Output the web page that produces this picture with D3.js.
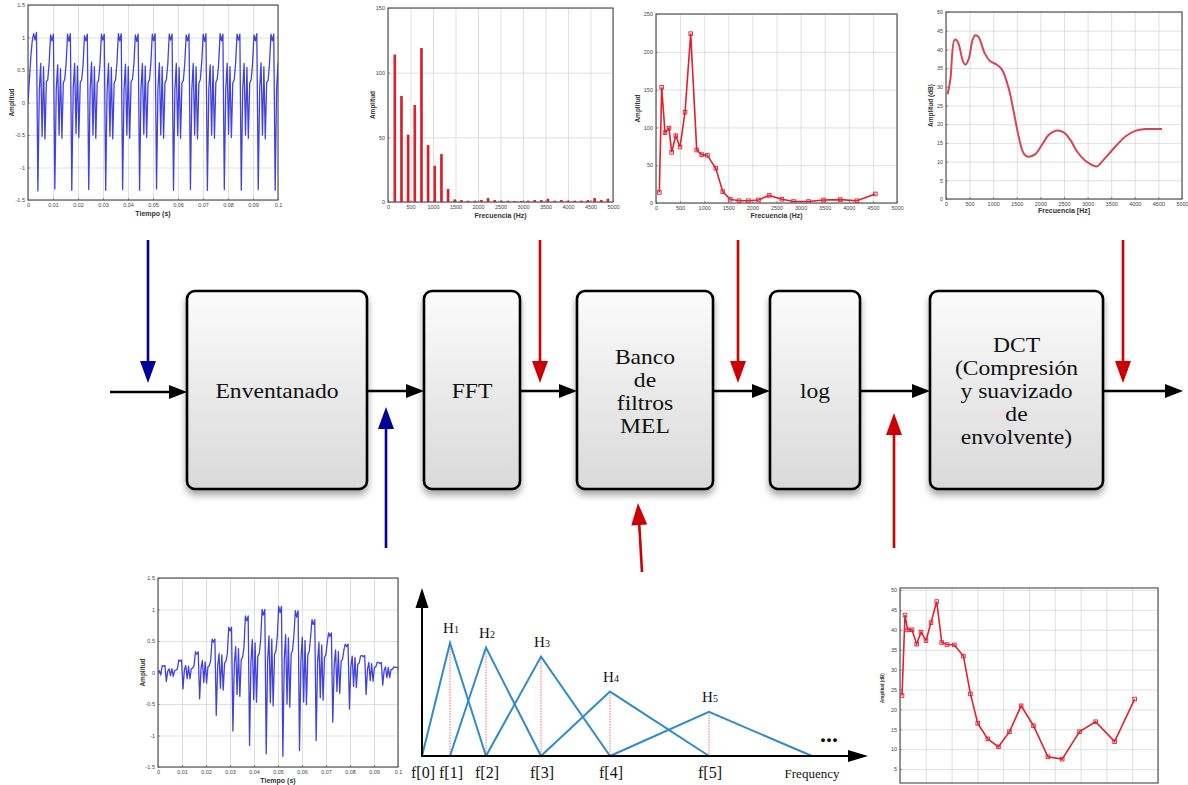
<!DOCTYPE html>
<html><head><meta charset="utf-8">
<script src="https://cdn.jsdelivr.net/npm/d3@7/dist/d3.min.js"></script>
<style>html,body{margin:0;padding:0;background:#fff}svg{display:block}</style>
</head><body>
<svg id="chart" width="1188" height="785"></svg>
<script>
// ================= DATA =================
// Voice signal (amplitude per sample, one row per pitch period)
const signalLead = [0.0, 0.35, 0.7, 0.95];
const signalPeriods = [
  [1.06, 0.96, 1.08, -1.36, 0.18, 0.60, -0.52, 0.55, -0.56, 0.32, 0.35, 0.62],
  [1.04, 0.95, 1.05, -1.33, 0.20, 0.58, -0.50, 0.52, -0.55, 0.30, 0.36, 0.60],
  [1.05, 0.94, 1.06, -1.35, 0.22, 0.60, -0.48, 0.56, -0.54, 0.31, 0.35, 0.58],
  [1.03, 0.95, 1.05, -1.34, 0.20, 0.62, -0.50, 0.55, -0.55, 0.30, 0.34, 0.60],
  [1.05, 0.96, 1.05, -1.35, 0.18, 0.60, -0.52, 0.54, -0.56, 0.30, 0.35, 0.62],
  [1.06, 0.95, 1.06, -1.34, 0.20, 0.59, -0.50, 0.55, -0.55, 0.32, 0.36, 0.60],
  [1.04, 0.94, 1.05, -1.35, 0.21, 0.60, -0.49, 0.56, -0.54, 0.30, 0.35, 0.61],
  [1.05, 0.95, 1.06, -1.33, 0.20, 0.61, -0.50, 0.55, -0.55, 0.31, 0.35, 0.60],
  [1.05, 0.96, 1.05, -1.35, 0.19, 0.60, -0.51, 0.54, -0.55, 0.30, 0.34, 0.60],
  [1.04, 0.95, 1.05, -1.34, 0.20, 0.60, -0.50, 0.55, -0.56, 0.30, 0.35, 0.62],
  [1.05, 0.94, 1.06, -1.35, 0.20, 0.58, -0.50, 0.56, -0.55, 0.31, 0.36, 0.60],
  [1.06, 0.95, 1.05, -1.34, 0.21, 0.60, -0.49, 0.55, -0.54, 0.30, 0.35, 0.61],
  [1.05, 0.96, 1.05, -1.35, 0.20, 0.60, -0.50, 0.54, -0.55, 0.30, 0.35, 0.60],
  [1.04, 0.95, 1.06, -1.34, 0.19, 0.61, -0.50, 0.55, -0.56, 0.31, 0.34, 0.60],
  [1.05, 0.95, 1.05, -1.35, 0.20, 0.60, -0.50, 0.55, -0.55, 0.30, 0.35, 0.60]
];
const signalDuration = 0.1;
const signalSamplesPerSpan = 177;

// Windowed frame (Hamming windowed signal)
const windowedLead = [0.0, 0.03, -0.04];
const windowedPeriods = [
  [0.11, 0.10, 0.11, -0.14, 0.02, 0.06, -0.05, 0.06, -0.06, 0.03, 0.04, 0.06],
  [0.20, 0.18, 0.20, -0.26, 0.04, 0.11, -0.10, 0.10, -0.10, 0.06, 0.07, 0.11],
  [0.33, 0.29, 0.33, -0.42, 0.06, 0.19, -0.16, 0.17, -0.17, 0.09, 0.11, 0.19],
  [0.53, 0.48, 0.53, -0.68, 0.10, 0.30, -0.25, 0.28, -0.28, 0.15, 0.18, 0.30],
  [0.72, 0.66, 0.72, -0.93, 0.14, 0.41, -0.35, 0.38, -0.38, 0.21, 0.24, 0.41],
  [0.90, 0.82, 0.90, -1.16, 0.17, 0.52, -0.43, 0.47, -0.47, 0.26, 0.30, 0.52],
  [1.00, 0.91, 1.00, -1.29, 0.19, 0.58, -0.48, 0.53, -0.53, 0.29, 0.34, 0.58],
  [1.05, 0.95, 1.05, -1.33, 0.20, 0.60, -0.50, 0.55, -0.55, 0.30, 0.35, 0.60],
  [0.98, 0.88, 0.98, -1.24, 0.19, 0.56, -0.47, 0.51, -0.51, 0.28, 0.33, 0.56],
  [0.84, 0.76, 0.84, -1.08, 0.16, 0.48, -0.40, 0.44, -0.44, 0.24, 0.28, 0.48],
  [0.63, 0.57, 0.63, -0.79, 0.12, 0.36, -0.30, 0.33, -0.33, 0.18, 0.21, 0.36],
  [0.45, 0.41, 0.45, -0.58, 0.09, 0.26, -0.22, 0.24, -0.24, 0.13, 0.15, 0.26],
  [0.27, 0.25, 0.27, -0.35, 0.05, 0.16, -0.13, 0.14, -0.14, 0.08, 0.09, 0.16],
  [0.16, 0.14, 0.16, -0.20, 0.03, 0.09, -0.08, 0.08, -0.08, 0.05, 0.05, 0.09],
  [0.08, 0.08, 0.08, -0.11, 0.02, 0.05, -0.04, 0.04, -0.04, 0.02, 0.03, 0.05]
];
const windowedSamplesPerSpan = 173;

// FFT magnitude (harmonics)
const fftFreqs = [148, 296, 444, 592, 740, 888, 1036, 1184, 1332, 1480, 1628, 1776, 1924, 2072, 2220, 2368, 2516, 2664, 2812, 2960, 3108, 3256, 3404, 3552, 3700, 3848, 3996, 4144, 4292, 4440, 4588, 4736, 4884];
const fftAmps  = [114, 82, 52, 75, 119, 44, 28, 37, 10, 2, 1.5, 1, 1, 1.5, 3, 1.5, 1, 1, 0.8, 0.8, 1, 1.5, 1.5, 2.5, 1, 1.5, 1, 1, 1, 1.5, 3, 1.5, 2.5];

// Mel filter bank output
const melFreqs = [69, 118, 187, 270, 325, 409, 498, 602, 720, 845, 949, 1066, 1240, 1385, 1537, 1724, 1918, 2126, 2348, 2611, 2853, 3165, 3476, 3823, 4169, 4550];
const melAmps  = [14, 153, 93, 99, 67, 89, 74, 120, 224, 70, 64, 63, 46, 15, 5, 3, 3, 4, 10, 5, 2, 2, 4, 4.5, 3, 12];

// Smoothed envelope after DCT (dB)
const envFreqs = [35, 92, 184, 247, 360, 410, 480, 565, 621, 692, 819, 939, 1080, 1186, 1328, 1434, 1540, 1645, 1737, 1893, 2034, 2175, 2352, 2493, 2634, 2776, 2952, 3093, 3199, 3305, 3446, 3623, 3800, 4011, 4223, 4435, 4576];
const envDb    = [28, 31.9, 42.6, 42.1, 36.8, 35.9, 37.4, 42.6, 43.8, 43.3, 39, 36.8, 35.9, 34.6, 29.6, 23.4, 16.7, 12.2, 11.3, 12, 14.5, 17.1, 18.3, 17.8, 15.8, 12.7, 10.2, 9.1, 8.7, 10, 12, 14.5, 16.7, 18.2, 18.7, 18.7, 18.7];

// Log of mel energies (dB)
const logMelFreqs = [39, 97, 149, 233, 323, 407, 504, 601, 712, 809, 912, 1054, 1229, 1365, 1507, 1701, 1908, 2122, 2348, 2587, 2866, 3144, 3480, 3791, 4159, 4547];
const logMelDb    = [23.5, 43.7, 40, 40, 36.4, 39.4, 37.3, 41.8, 47.1, 36.8, 36.3, 36.2, 33.4, 23.9, 16.5, 12.6, 10.6, 14.4, 20.9, 15.9, 8.1, 7.5, 14.4, 16.9, 11.9, 22.6];

// Triangular mel filters diagram
const filterEdges = [0, 28, 64, 119, 188, 287, 390];
const filterPeaks = [1.0, 0.96, 0.88, 0.57, 0.39];
const filterEdgeLabels = ["f[0]", "f[1]", "f[2]", "f[3]", "f[4]", "f[5]"];
const filterNames = ["1", "2", "3", "4", "5"];

// Tick values
const timeTicks = [0, 0.01, 0.02, 0.03, 0.04, 0.05, 0.06, 0.07, 0.08, 0.09, 0.1];
const ampTicks = [-1.5, -1, -0.5, 0, 0.5, 1, 1.5];
const freqTicks = [0, 500, 1000, 1500, 2000, 2500, 3000, 3500, 4000, 4500, 5000];
const fftTicks = [0, 50, 100, 150];
const melTicks = [0, 50, 100, 150, 200, 250];
const dbTicks = [0, 5, 10, 15, 20, 25, 30, 35, 40, 45, 50];
const dbTicksVisible = [5, 10, 15, 20, 25, 30, 35, 40, 45, 50];

// Processing blocks
const blockLabels = [
  ["Enventanado"],
  ["FFT"],
  ["Banco", "de", "filtros", "MEL"],
  ["log"],
  ["DCT", "(Compresión", "y suavizado", "de", "envolvente)"]
];

// ================= DRAWING =================
const svg = d3.select('#chart');
const defs = svg.append('defs');
const SERIF = '"Liberation Serif","DejaVu Serif",serif';
const SANS = '"Liberation Sans","DejaVu Sans",sans-serif';
const BLUE = '#000099', RED = '#cc0000';

const grad = defs.append('linearGradient').attr('id', 'boxGrad').attr('x1', 0).attr('y1', 0).attr('x2', 0).attr('y2', 1);
grad.append('stop').attr('offset', '0%').attr('stop-color', '#fbfbfb');
grad.append('stop').attr('offset', '100%').attr('stop-color', '#d9d9d9');
const flt = defs.append('filter').attr('id', 'shadow').attr('x', '-20%').attr('y', '-20%').attr('width', '140%').attr('height', '150%');
flt.append('feDropShadow').attr('dx', 0).attr('dy', 5).attr('stdDeviation', 3.5).attr('flood-color', '#000').attr('flood-opacity', 0.35);

function arrow(x1, y1, x2, y2, color, lw, hl, hw) {
  const dx = x2 - x1, dy = y2 - y1, L = Math.hypot(dx, dy), ux = dx / L, uy = dy / L;
  const bx = x2 - ux * hl, by = y2 - uy * hl;
  svg.append('line').attr('x1', x1).attr('y1', y1).attr('x2', bx + ux * 2).attr('y2', by + uy * 2)
    .attr('stroke', color).attr('stroke-width', lw);
  svg.append('path')
    .attr('d', `M${x2},${y2}L${bx - uy * hw / 2},${by + ux * hw / 2}L${bx + uy * hw / 2},${by - ux * hw / 2}Z`)
    .attr('fill', color);
}

function styleAxis(s) {
  s.select('.domain').remove();
  s.selectAll('line').attr('stroke', '#555').attr('stroke-width', 0.6);
  s.selectAll('text').attr('font-size', 5.5).attr('fill', '#444').attr('font-family', SANS);
}

let clipCount = 0;
function miniChart(o) {
  const g = svg.append('g');
  const w = o.right - o.left, h = o.bottom - o.top;
  const x = d3.scaleLinear().domain(o.xDomain).range([o.left, o.right]);
  const y = d3.scaleLinear().domain(o.yDomain).range(o.yRange || [o.bottom, o.top]);
  g.append('rect').attr('x', o.left).attr('y', o.top).attr('width', w).attr('height', h).attr('fill', '#fff');
  const gx = g.append('g').attr('transform', `translate(0,${o.bottom})`)
    .call(d3.axisBottom(x).tickValues(o.xTicks).tickSize(-h).tickFormat(''));
  const gy = g.append('g').attr('transform', `translate(${o.left},0)`)
    .call(d3.axisLeft(y).tickValues(o.yTicks).tickSize(-w).tickFormat(''));
  [gx, gy].forEach(s => { s.select('.domain').remove(); s.selectAll('line').attr('stroke', '#d2d2d2').attr('stroke-width', 0.7); });
  if (o.xFormat) {
    g.append('g').attr('transform', `translate(0,${o.bottom})`)
      .call(d3.axisBottom(x).tickValues(o.xTicks).tickSizeInner(-2).tickSizeOuter(0).tickPadding(3).tickFormat(o.xFormat))
      .call(styleAxis);
  }
  g.append('g').attr('transform', `translate(${o.left},0)`)
    .call(d3.axisLeft(y).tickValues(o.yTicks).tickSizeInner(-2).tickSizeOuter(0).tickPadding(3).tickFormat(o.yFormat))
    .call(styleAxis);
  g.append('rect').attr('x', o.left).attr('y', o.top).attr('width', w).attr('height', h)
    .attr('fill', 'none').attr('stroke', '#555').attr('stroke-width', 1.2);
  const id = 'clip' + (clipCount++);
  defs.append('clipPath').attr('id', id).append('rect').attr('x', o.left).attr('y', o.top).attr('width', w).attr('height', h);
  const plot = g.append('g').attr('clip-path', `url(#${id})`);
  if (o.xTitle) {
    g.append('text').attr('x', (o.left + o.right) / 2).attr('y', o.xTitleY).attr('text-anchor', 'middle')
      .attr('font-family', SANS).attr('font-size', 7).attr('font-weight', 'bold').attr('fill', '#333').text(o.xTitle);
  }
  if (o.yTitle) {
    g.append('text').attr('transform', `translate(${o.yTitleX},${o.yTitleMid || (o.top + o.bottom) / 2}) rotate(-90)`)
      .attr('text-anchor', 'middle').attr('font-family', SANS).attr('font-size', o.yTitleSize || 6.5).attr('font-weight', 'bold')
      .attr('fill', '#333').text(o.yTitle);
  }
  return { x, y, plot };
}

const fmtTime = d => d === 0 ? '0' : String(+d.toFixed(2));
const fmtNum = d => String(d);

function flatten(lead, rows) { return lead.concat(...rows); }

// ---- 1. Voice signal ----
{
  const c = miniChart({ left: 28, right: 278, top: 5, bottom: 200, xDomain: [0, 0.1], yDomain: [-1.5, 1.5],
    xTicks: timeTicks, yTicks: ampTicks, xFormat: fmtTime, yFormat: fmtNum,
    xTitle: 'Tiempo (s)', xTitleY: 216, yTitle: 'Amplitud', yTitleX: 14 });
  const vals = flatten(signalLead, signalPeriods);
  const step = signalDuration / signalSamplesPerSpan;
  c.plot.append('path').datum(vals)
    .attr('d', d3.line().x((d, i) => c.x(i * step)).y(d => c.y(d)))
    .attr('fill', 'none').attr('stroke', '#4242dc').attr('stroke-width', 1.3).attr('stroke-linejoin', 'round');
}

// ---- 2. FFT ----
{
  const c = miniChart({ left: 388, right: 613, top: 8, bottom: 202, xDomain: [0, 5000], yDomain: [0, 150],
    xTicks: freqTicks, yTicks: fftTicks, xFormat: fmtNum, yFormat: fmtNum,
    xTitle: 'Frecuencia (Hz)', xTitleY: 218, yTitle: 'Amplitud', yTitleX: 375 });
  c.plot.selectAll('line.stem').data(fftFreqs).join('line').attr('class', 'stem')
    .attr('x1', d => c.x(d)).attr('x2', d => c.x(d))
    .attr('y1', c.y(0)).attr('y2', (d, i) => c.y(fftAmps[i]))
    .attr('stroke', '#e8202c').attr('stroke-width', 2.4);
  c.plot.selectAll('line.stem2').data(fftFreqs).join('line').attr('class', 'stem2')
    .attr('x1', d => c.x(d) + 1).attr('x2', d => c.x(d) + 1)
    .attr('y1', c.y(0)).attr('y2', (d, i) => c.y(fftAmps[i]))
    .attr('stroke', '#a01020').attr('stroke-width', 0.6);
}

// ---- 3. Mel filter bank output ----
{
  const c = miniChart({ left: 656, right: 897, top: 14, bottom: 203, xDomain: [0, 5000], yDomain: [0, 250],
    xTicks: freqTicks, yTicks: melTicks, xFormat: fmtNum, yFormat: fmtNum,
    xTitle: 'Frecuencia (Hz)', xTitleY: 218, yTitle: 'Amplitud', yTitleX: 640 });
  const pts = melFreqs.map((f, i) => [f, melAmps[i]]);
  c.plot.append('path').datum(pts).attr('d', d3.line().x(d => c.x(d[0])).y(d => c.y(d[1])))
    .attr('fill', 'none').attr('stroke', '#e2202e').attr('stroke-width', 1.6);
  c.plot.selectAll('rect.m').data(pts).join('rect').attr('class', 'm')
    .attr('x', d => c.x(d[0]) - 1.8).attr('y', d => c.y(d[1]) - 1.8).attr('width', 3.6).attr('height', 3.6)
    .attr('fill', 'none').attr('stroke', '#e2202e').attr('stroke-width', 0.9);
}

// ---- 4. Smoothed envelope ----
{
  const c = miniChart({ left: 946, right: 1182, top: 12, bottom: 199, xDomain: [0, 5000], yDomain: [0, 50],
    xTicks: freqTicks, yTicks: dbTicks, xFormat: fmtNum, yFormat: fmtNum,
    xTitle: 'Frecuencia [Hz]', xTitleY: 213, yTitle: 'Amplitud (dB)', yTitleX: 933 });
  const pts = envFreqs.map((f, i) => [f, envDb[i]]);
  c.plot.append('path').datum(pts).attr('d', d3.line().curve(d3.curveCatmullRom).x(d => c.x(d[0])).y(d => c.y(d[1])))
    .attr('fill', 'none').attr('stroke', '#d9435a').attr('stroke-width', 2);
}

// ---- 5. Windowed frame ----
{
  const c = miniChart({ left: 158, right: 398, top: 578, bottom: 767, xDomain: [0, 0.1], yDomain: [-1.5, 1.5],
    xTicks: timeTicks, yTicks: ampTicks, xFormat: fmtTime, yFormat: fmtNum,
    xTitle: 'Tiempo (s)', xTitleY: 783, yTitle: 'Amplitud', yTitleX: 145 });
  const vals = flatten(windowedLead, windowedPeriods);
  const step = signalDuration / windowedSamplesPerSpan;
  c.plot.append('path').datum(vals)
    .attr('d', d3.line().x((d, i) => c.x(i * step)).y(d => c.y(d)))
    .attr('fill', 'none').attr('stroke', '#4242dc').attr('stroke-width', 1.3).attr('stroke-linejoin', 'round');
}

// ---- 7. Log mel energies ----
{
  const c = miniChart({ left: 900, right: 1158, top: 588, bottom: 783, xDomain: [0, 5000], yDomain: [0, 50],
    yRange: [789, 590], xTicks: freqTicks, yTicks: dbTicksVisible, xFormat: null, yFormat: fmtNum,
    yTitle: 'Amplitud (dB)', yTitleX: 884, yTitleSize: 4.5, yTitleMid: 688 });
  const pts = logMelFreqs.map((f, i) => [f, logMelDb[i]]);
  c.plot.append('path').datum(pts).attr('d', d3.line().x(d => c.x(d[0])).y(d => c.y(d[1])))
    .attr('fill', 'none').attr('stroke', '#e2202e').attr('stroke-width', 1.6);
  c.plot.selectAll('rect.m').data(pts).join('rect').attr('class', 'm')
    .attr('x', d => c.x(d[0]) - 1.8).attr('y', d => c.y(d[1]) - 1.8).attr('width', 3.6).attr('height', 3.6)
    .attr('fill', 'none').attr('stroke', '#e2202e').attr('stroke-width', 0.9);
}

// ---- 6. Triangular filter diagram ----
{
  const fx = d3.scaleLinear().domain([0, 446]).range([422, 868]);
  const fy = d3.scaleLinear().domain([0, 1.487]).range([756, 588]);
  const g = svg.append('g');
  arrow(fx(0), fy(0) + 1, fx(0), fy(1.487), '#000', 2, 20, 13);
  arrow(fx(0) - 1, fy(0), fx(446), fy(0), '#000', 2, 20, 12);
  filterPeaks.forEach((p, i) => {
    g.append('line').attr('x1', fx(filterEdges[i + 1])).attr('x2', fx(filterEdges[i + 1]))
      .attr('y1', fy(p)).attr('y2', fy(0)).attr('stroke', '#f04848').attr('stroke-width', 0.8)
      .attr('stroke-dasharray', '1.5,1.2');
  });
  filterPeaks.forEach((p, i) => {
    g.append('path').datum([[filterEdges[i], 0], [filterEdges[i + 1], p], [filterEdges[i + 2], 0]])
      .attr('d', d3.line().x(d => fx(d[0])).y(d => fy(d[1])))
      .attr('fill', 'none').attr('stroke', '#2f8bcb').attr('stroke-width', 2).attr('stroke-linejoin', 'miter');
  });
  filterPeaks.forEach((p, i) => {
    const t = g.append('text').attr('x', fx(filterEdges[i + 1]) + 1).attr('y', fy(p) - 10)
      .attr('text-anchor', 'middle').attr('font-family', SERIF).attr('fill', '#111');
    t.append('tspan').attr('font-size', 15).text('H');
    t.append('tspan').attr('font-size', 10).text(filterNames[i]);
  });
  filterEdgeLabels.forEach((lab, i) => {
    g.append('text').attr('x', fx(filterEdges[i]) + (i === 0 ? 1 : 1)).attr('y', 778).attr('text-anchor', 'middle')
      .attr('font-family', SERIF).attr('font-size', 16).attr('fill', '#111').text(lab);
  });
  g.append('text').attr('x', 812).attr('y', 778).attr('text-anchor', 'middle')
    .attr('font-family', SERIF).attr('font-size', 13).attr('fill', '#111').text('Frequency');
  g.append('text').attr('x', 829).attr('y', 742).attr('text-anchor', 'middle')
    .attr('font-family', SERIF).attr('font-size', 24).attr('font-weight', 'bold').attr('fill', '#111').text('...');
}

// ---- Block diagram ----
const flowY = 391;
const blockTop = 291, blockBottom = 489;
const blockX = [[187, 367], [424, 520], [577, 713], [770, 860], [930, 1103]];

arrow(110, 392, blockX[0][0], 392, '#000', 2.5, 18, 14);
for (let i = 0; i < blockX.length - 1; i++) arrow(blockX[i][1], flowY, blockX[i + 1][0], flowY, '#000', 2.5, 18, 14);
arrow(blockX[4][1], flowY, 1183, flowY, '#000', 2.5, 18, 14);

blockLabels.forEach((lines, i) => {
  const [x0, x1] = blockX[i];
  const g = svg.append('g');
  g.append('rect').attr('x', x0).attr('y', blockTop).attr('width', x1 - x0).attr('height', blockBottom - blockTop)
    .attr('rx', 8).attr('ry', 8).attr('fill', 'url(#boxGrad)').attr('stroke', '#000').attr('stroke-width', 2.6)
    .attr('filter', 'url(#shadow)');
  const n = lines.length, lh = 23;
  lines.forEach((t, j) => {
    g.append('text')
      .attr('transform', `translate(${(x0 + x1) / 2},${flowY + 7 + (j - (n - 1) / 2) * lh}) scale(1.18,1)`)
      .attr('text-anchor', 'middle').attr('font-family', SERIF).attr('font-size', 20).attr('fill', '#111').text(t);
  });
});

arrow(148, 240, 148, 383, BLUE, 2.6, 22, 16);
arrow(386, 548, 386, 407, BLUE, 2.6, 22, 16);
arrow(540, 240, 540, 383, RED, 2.6, 22, 16);
arrow(738, 240, 738, 383, RED, 2.6, 22, 16);
arrow(642, 572, 638, 503, RED, 2.6, 22, 16);
arrow(894, 548, 894, 413, RED, 2.6, 22, 16);
arrow(1123, 240, 1123, 383, RED, 2.6, 22, 16);
</script>
</body></html>
